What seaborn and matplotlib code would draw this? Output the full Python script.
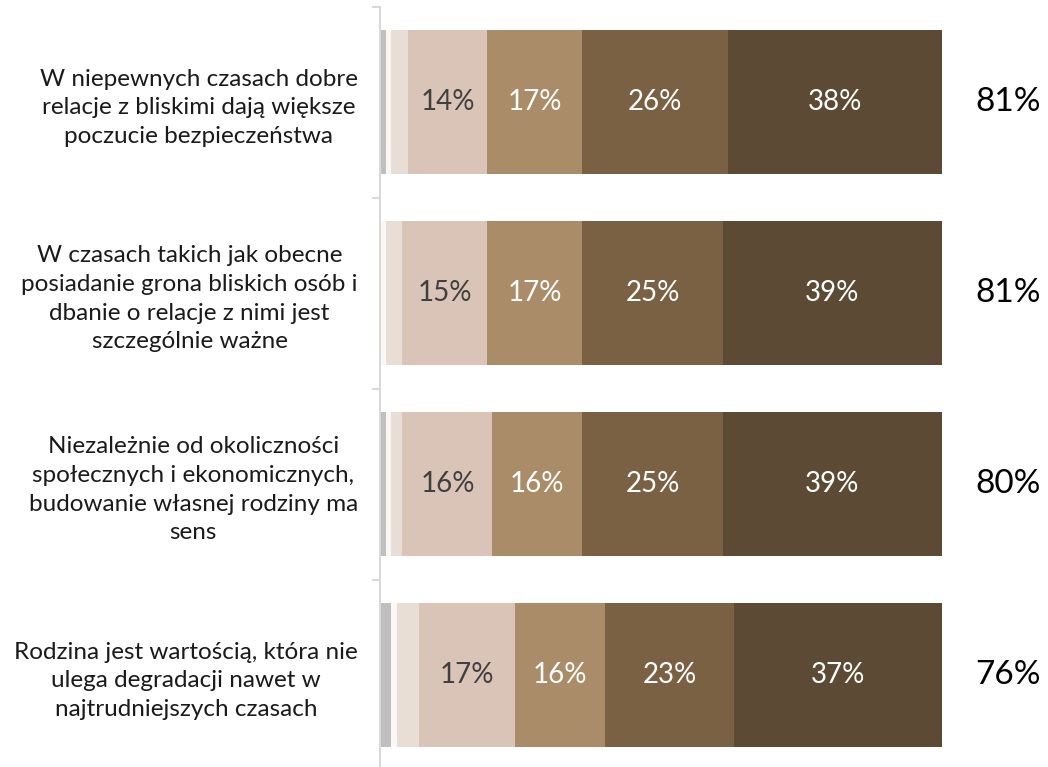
import matplotlib
matplotlib.use("Agg")
import matplotlib.pyplot as plt
import seaborn as sns
import pandas as pd
import numpy as np

# ---------------- data ----------------
statements = [
    "W niepewnych czasach dobre\nrelacje z bliskimi dają większe\npoczucie bezpieczeństwa",
    "W czasach takich jak obecne\nposiadanie grona bliskich osób i\ndbanie o relacje z nimi jest\nszczególnie ważne",
    "Niezależnie od okoliczności\nspołecznych i ekonomicznych,\nbudowanie własnej rodziny ma\nsens",
    "Rodzina jest wartością, która nie\nulega degradacji nawet w\nnajtrudniejszych czasach",
]
seg_dont_know = [1, 0, 1, 2]
seg_1 = [1, 1, 1, 1]
seg_2 = [3, 3, 2, 4]
seg_3 = [14, 15, 16, 17]
seg_4 = [17, 17, 16, 16]
seg_5 = [26, 25, 25, 23]
seg_6 = [38, 39, 39, 37]
totals = [81, 81, 80, 76]

segments = [seg_dont_know, seg_1, seg_2, seg_3, seg_4, seg_5, seg_6]
colors = ["#BFBFBF", "#FAF7F5", "#E9DED6", "#D9C4B7", "#AA8C68", "#7A6143", "#5D4A35"]
text_colors = [None, None, None, "#404040", "white", "white", "white"]

# ---------------- figure ----------------
sns.set_theme(style="white")
plt.rcParams["font.family"] = ["Lato", "DejaVu Sans"]

W, H = 1048, 767
fig = plt.figure(figsize=(W / 100, H / 100), dpi=100)
ax_top, ax_bot = 6.5, 770.5
ax = fig.add_axes([380 / W, (H - ax_bot) / H, 562 / W, (ax_bot - ax_top) / H])

vals = np.array(segments, dtype=float)
cum = np.cumsum(vals, axis=0)
df = pd.DataFrame({"statement": statements})

for k in range(len(segments) - 1, -1, -1):
    df["x"] = cum[k]
    sns.barplot(data=df, x="x", y="statement", orient="h", color=colors[k],
                saturation=1, width=0.75, linewidth=0, ax=ax)

# segment labels
for k, seg in enumerate(segments):
    for i, v in enumerate(seg):
        if v >= 10:
            left = cum[k][i] - v
            ax.text(left + v / 2, i, f"{v}%", ha="center", va="center",
                    fontsize=20, color=text_colors[k])

# totals
for i, t in enumerate(totals):
    ax.text(111.7, i, f"{t}%", ha="center", va="center", fontsize=24,
            color="black", clip_on=False)

ax.set_xlim(0, 100)
ax.set_ylim(3.5, -0.5)
ax.set_xlabel("")
ax.set_ylabel("")
ax.set_xticks([])

# category boundaries as major ticks, labels on minor ticks
ax.set_yticks(np.arange(-0.5, len(statements), 1.0))
ax.set_yticklabels([])
ax.set_yticks(np.arange(len(statements)), minor=True)
ax.set_yticklabels(statements, minor=True, fontsize=17.5, color="#1a1a1a",
                   multialignment="center", linespacing=1.45)
ax.tick_params(axis="y", which="major", length=6, width=1.5, color="#D9D9D9", left=True)
ax.tick_params(axis="y", which="minor", length=0, pad=16)

for s in ["top", "right", "bottom"]:
    ax.spines[s].set_visible(False)
ax.spines["left"].set_color("#D9D9D9")
ax.spines["left"].set_linewidth(1.5)

fig.savefig("out.png", dpi=100)
